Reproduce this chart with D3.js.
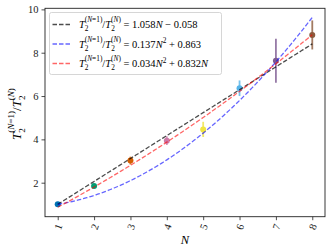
<!DOCTYPE html>
<html>
<head>
<meta charset="utf-8">
<script src="https://cdn.jsdelivr.net/npm/d3@7"></script>
<style>
  body { margin: 0; background: #fff; }
  svg { display: block; }
  text { font-family: "Liberation Serif", "DejaVu Serif", serif; }
</style>
</head>
<body>
<div id="chart"></div>
<script>
// measured points with error bars
var nVals = [1, 2, 3, 4, 5, 6, 7, 8];
var ratio = [1.0, 1.85, 3.02, 3.94, 4.46, 6.36, 7.63, 8.82];
var ratioErr = [0.03, 0.06, 0.18, 0.2, 0.35, 0.36, 1.02, 0.67];
var pointColors = ['#0072b2', '#009e73', '#d55e00', '#cc79a7', '#f0e442', '#56b4e9', '#7d5a92', '#8b5a3c'];

// fit coefficients [a2, a1, a0]
var fitLinear = [0, 1.058, -0.058];
var fitQuad = [0.137, 0, 0.863];
var fitQuadLin = [0.034, 0.832, 0];
var xTicks = [1, 2, 3, 4, 5, 6, 7, 8];
var yTicks = [2, 4, 6, 8, 10];

var width = 333, height = 251;
var svg = d3.select('#chart').append('svg')
    .attr('width', width)
    .attr('height', height);

var mLeft = 45, mRight = 325, mTop = 8.3, mBottom = 216.7;

var x = d3.scaleLinear().domain([0.65, 8.35]).range([mLeft, mRight]);
var y = d3.scaleLinear().domain([0.43, 10.05]).range([mBottom, mTop]);

// mini tex-ish text writer
function writeMath(sel, parts, size) {
    var off = 0;
    parts.forEach(function (p) {
        var s = size * (p.s || 1);
        var target = (p.o || 0) * size;
        sel.append('tspan')
            .attr('dy', target - off)
            .attr('dx', (p.dx || 0) * size)
            .style('font-size', s + 'px')
            .style('font-style', p.i ? 'italic' : 'normal')
            .text(p.t);
        off = target;
    });
}

function ratioParts() {
    return [
        {t: 'T', i: true},
        {t: '2', s: 0.7, o: 0.3},
        {t: '(', s: 0.7, o: -0.55, dx: -0.36},
        {t: 'N', s: 0.7, o: -0.55, i: true},
        {t: '=1)', s: 0.7, o: -0.55},
        {t: '/', o: 0},
        {t: 'T', i: true},
        {t: '2', s: 0.7, o: 0.3},
        {t: '(', s: 0.7, o: -0.55, dx: -0.36},
        {t: 'N', s: 0.7, o: -0.55, i: true},
        {t: ')', s: 0.7, o: -0.55}
    ];
}

// error bars + points
var pts = nVals.map(function (n, i) {
    return {n: n, v: ratio[i], e: ratioErr[i], c: pointColors[i]};
});

var g = svg.append('g');
g.selectAll('line.err')
    .data(pts)
    .enter()
    .append('line')
    .attr('class', 'err')
    .attr('x1', function (d) { return x(d.n); })
    .attr('x2', function (d) { return x(d.n); })
    .attr('y1', function (d) { return y(d.v - d.e); })
    .attr('y2', function (d) { return y(d.v + d.e); })
    .attr('stroke', function (d) { return d.c; })
    .attr('stroke-width', 1.8)
    .attr('opacity', 0.8);

g.selectAll('circle')
    .data(pts)
    .enter()
    .append('circle')
    .attr('cx', function (d) { return x(d.n); })
    .attr('cy', function (d) { return y(d.v); })
    .attr('r', 3)
    .attr('fill', function (d) { return d.c; });

// fit curves
var grid = d3.range(1, 8.001, 0.05);
function poly(c) {
    return function (n) { return c[0] * n * n + c[1] * n + c[2]; };
}
var fits = [
    {c: fitLinear, color: '#000', op: 0.7},
    {c: fitQuad, color: '#0000ff', op: 0.6},
    {c: fitQuadLin, color: '#ff0000', op: 0.6}
];
var line = d3.line();
fits.forEach(function (f) {
    var p = poly(f.c);
    svg.append('path')
        .attr('d', line(grid.map(function (n) { return [x(n), y(p(n))]; })))
        .attr('fill', 'none')
        .attr('stroke', f.color)
        .attr('stroke-opacity', f.op)
        .attr('stroke-width', 1.3)
        .attr('stroke-dasharray', '4.5,2');
});

// axes
var xAxis = svg.append('g')
    .attr('transform', 'translate(0,' + mBottom + ')')
    .call(d3.axisBottom(x).tickValues(xTicks).tickSize(3.5).tickSizeOuter(0));
xAxis.selectAll('text')
    .attr('transform', 'translate(0,10) rotate(-70)')
    .attr('y', 0)
    .attr('dy', '0.35em')
    .attr('text-anchor', 'middle');

var yAxis = svg.append('g')
    .attr('transform', 'translate(' + mLeft + ',0)')
    .call(d3.axisLeft(y).tickValues(yTicks).tickSize(3.5).tickSizeOuter(0));

svg.selectAll('.domain').remove();
svg.selectAll('.tick line').attr('stroke', '#222').attr('stroke-width', 0.8);
svg.selectAll('.tick text')
    .style('font-family', '"Liberation Serif", serif')
    .style('font-size', '10.5px')
    .attr('fill', '#222');

svg.append('rect')
    .attr('x', mLeft).attr('y', mTop)
    .attr('width', mRight - mLeft).attr('height', mBottom - mTop)
    .attr('fill', 'none')
    .attr('stroke', '#222')
    .attr('stroke-width', 0.9);

// axis labels
svg.append('text')
    .attr('x', (mLeft + mRight) / 2)
    .attr('y', 244)
    .attr('text-anchor', 'middle')
    .style('font-size', '12.5px')
    .style('font-style', 'italic')
    .text('N');

var yl = svg.append('text')
    .attr('transform', 'translate(21,114) rotate(-90)')
    .attr('text-anchor', 'middle');
writeMath(yl, ratioParts(), 13);

// legend
var legendLabels = [
    ratioParts().concat([{t: ' = 1.058'}, {t: 'N', i: true}, {t: ' − 0.058'}]),
    ratioParts().concat([{t: ' = 0.137'}, {t: 'N', i: true}, {t: '2', s: 0.7, o: -0.4}, {t: ' + 0.863', o: 0}]),
    ratioParts().concat([{t: ' = 0.034'}, {t: 'N', i: true}, {t: '2', s: 0.7, o: -0.4}, {t: ' + 0.832', o: 0}, {t: 'N', i: true}])
];

var lg = svg.append('g');
lg.append('rect')
    .attr('x', 49.5).attr('y', 12.5)
    .attr('width', 172).attr('height', 62)
    .attr('rx', 2)
    .attr('fill', '#fff')
    .attr('fill-opacity', 0.8)
    .attr('stroke', '#ccc')
    .attr('stroke-width', 0.8);

legendLabels.forEach(function (parts, i) {
    var yy = 24.5 + i * 19.5;
    lg.append('line')
        .attr('x1', 52.5).attr('x2', 71)
        .attr('y1', yy).attr('y2', yy)
        .attr('stroke', fits[i].color)
        .attr('stroke-opacity', fits[i].op)
        .attr('stroke-width', 1.3)
        .attr('stroke-dasharray', '4.5,2');
    var t = lg.append('text')
        .attr('x', 79)
        .attr('y', yy + 3.5);
    writeMath(t, parts, 10.5);
});
</script>
</body>
</html>
